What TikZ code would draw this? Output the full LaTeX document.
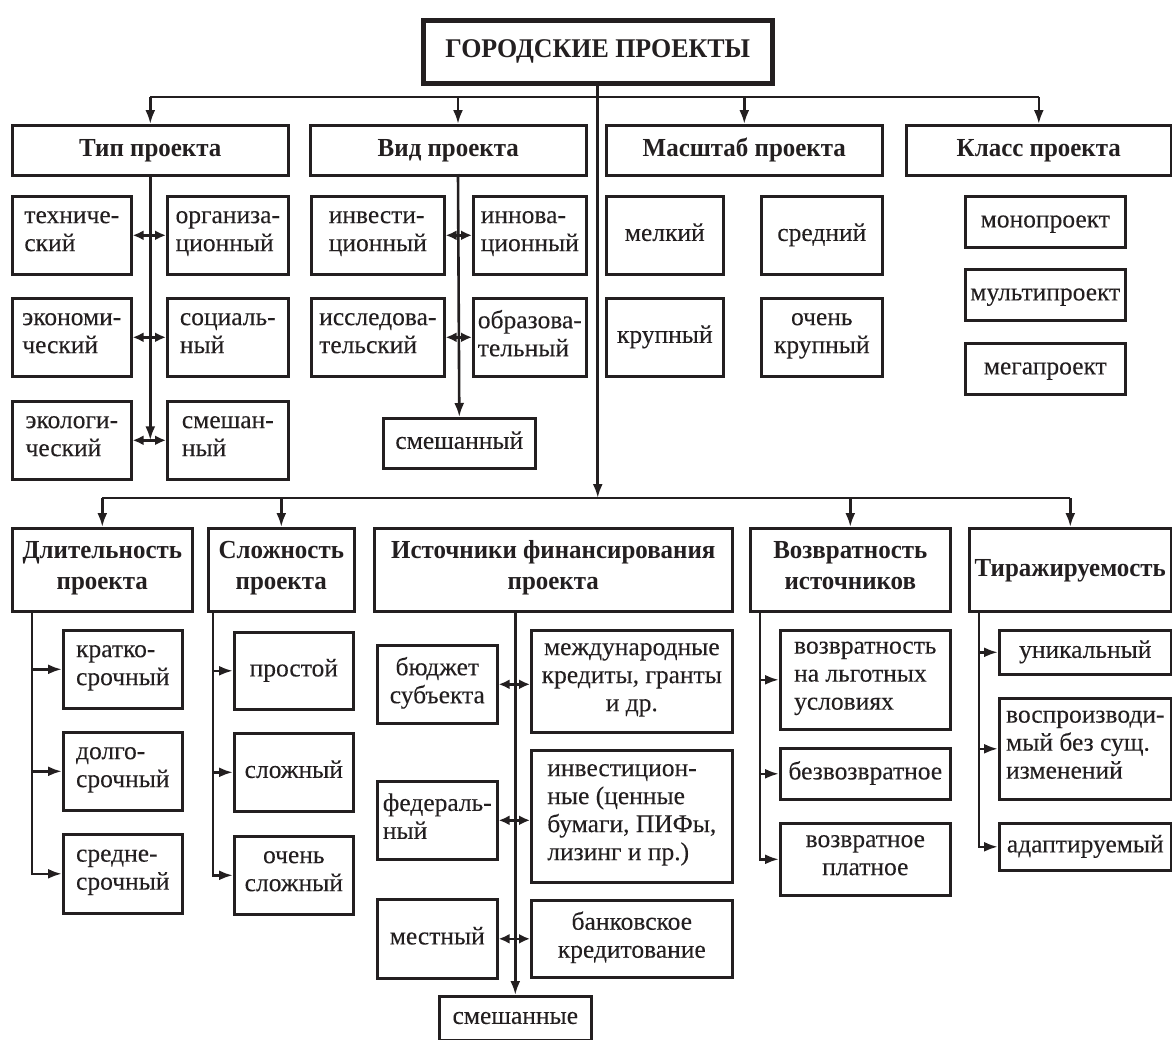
\documentclass[tikz,border=0pt]{standalone}
\usepackage{fontspec}
\setmainfont{Liberation Serif}
\newfontfamily\bodyfont[FakeBold=0.15]{Liberation Serif}
\newfontfamily\headfont[FakeStretch=0.96]{Liberation Serif}
\usetikzlibrary{arrows.meta}
\definecolor{ink}{RGB}{35,31,32}

\begin{document}
\begin{tikzpicture}[x=1pt,y=-1pt,
    box/.style={draw=ink, text=ink, line width=2.6pt, inner sep=1pt, align=left,
        anchor=north west, font={\fontsize{25.5}{28}\bodyfont},
        execute at begin node=\strut, execute at end node=\strut},
    cbox/.style={box, align=center},
    head/.style={box, align=center, font={\fontsize{26}{31}\headfont\bfseries}},
    lin/.style={draw=ink, line width=2.6pt},
    arr/.style={lin, arrows={-Latex[length=14pt,width=10pt]}},
    dbl/.style={lin, arrows={Latex[length=11pt,width=10pt]-Latex[length=11pt,width=10pt]}}]
    \useasboundingbox (0,0) rectangle (1172,1039);

    \node[head, line width=4.5pt, minimum width=349, minimum height=63,
        font={\fontsize{27}{31}\headfont\bfseries}] (title) at (421,18) {ГОРОДСКИЕ ПРОЕКТЫ};

    \node[head, minimum width=276, minimum height=50] (htype) at (11,124) {Тип проекта};
    \node[head, minimum width=276, minimum height=50] (hkind) at (309,124) {Вид проекта};
    \node[head, minimum width=276, minimum height=50] (hscale) at (605,124) {Масштаб проекта};
    \node[head, minimum width=265, minimum height=50] (hclass) at (905,124) {Класс проекта};

    \node[box, minimum width=119, minimum height=78] (tech) at (11,195) {техниче-\\ский};
    \node[box, minimum width=121, minimum height=78] (org) at (166,195) {организа-\\ционный};
    \node[box, minimum width=119, minimum height=78] (econ) at (11,297) {экономи-\\ческий};
    \node[box, minimum width=121, minimum height=78] (soc) at (166,297) {социаль-\\ный};
    \node[box, minimum width=119, minimum height=78] (ecol) at (11,400) {экологи-\\ческий};
    \node[box, minimum width=121, minimum height=78] (tmix) at (166,400) {смешан-\\ный};

    \node[box, minimum width=133, minimum height=78] (kinv) at (310,195) {инвести-\\ционный};
    \node[box, minimum width=113, minimum height=78] (kinn) at (472,195) {иннова-\\ционный};
    \node[box, minimum width=133, minimum height=78] (kres) at (310,297) {исследова-\\тельский};
    \node[box, minimum width=113, minimum height=78] (kedu) at (472,297) {образова-\\тельный};
    \node[box, minimum width=152, minimum height=50] (kmix) at (382,417) {смешанный};

    \node[box, minimum width=117, minimum height=78] (ssmall) at (605,195) {мелкий};
    \node[box, minimum width=121, minimum height=78] (smed) at (760,195) {средний};
    \node[box, minimum width=117, minimum height=78] (slarge) at (605,297) {крупный};
    \node[cbox, minimum width=121, minimum height=78] (svlarge) at (760,297) {очень\\крупный};

    \node[box, minimum width=160, minimum height=51] (cmono) at (964,195) {монопроект};
    \node[box, minimum width=160, minimum height=51] (cmulti) at (964,268) {мультипроект};
    \node[box, minimum width=160, minimum height=51] (cmega) at (964,342) {мегапроект};

    \node[head, minimum width=180, minimum height=83] (hdur) at (11,527) {Длительность\\проекта};
    \node[head, minimum width=146, minimum height=83] (hcomp) at (207,527) {Сложность\\проекта};
    \node[head, minimum width=358, minimum height=83] (hfin) at (373,527) {Источники финансирования\\проекта};
    \node[head, minimum width=200, minimum height=83] (hret) at (749,527) {Возвратность\\источников};
    \node[head, minimum width=202, minimum height=83] (hrep) at (968,527) {Тиражируемость};

    \node[box, minimum width=119, minimum height=78] (dshort) at (62,629) {кратко-\\срочный};
    \node[box, minimum width=119, minimum height=78] (dlong) at (62,731) {долго-\\срочный};
    \node[box, minimum width=119, minimum height=79] (dmid) at (62,833) {средне-\\срочный};

    \node[box, minimum width=119, minimum height=77] (csimple) at (233,631) {простой};
    \node[box, minimum width=119, minimum height=78] (ccomplex) at (233,732) {сложный};
    \node[cbox, minimum width=119, minimum height=78] (cvery) at (233,835) {очень\\сложный};

    \node[cbox, minimum width=120, minimum height=78] (fbud) at (376,644) {бюджет\\субъекта};
    \node[cbox, minimum width=201, minimum height=102] (fint) at (530,629) {международные\\кредиты, гранты\\и др.};
    \node[box, minimum width=120, minimum height=78] (ffed) at (376,780) {федераль-\\ный};
    \node[box, minimum width=201, minimum height=132] (finv) at (530,749) {инвестицион-\\ные (ценные\\бумаги, ПИФы,\\лизинг и пр.)};
    \node[box, minimum width=120, minimum height=79] (floc) at (376,898) {местный};
    \node[cbox, minimum width=201, minimum height=77] (fbank) at (530,899) {банковское\\кредитование};
    \node[box, minimum width=152, minimum height=44] (fmix) at (438,995) {смешанные};

    \node[box, minimum width=170, minimum height=99] (rpref) at (779,629) {возвратность\\на льготных\\условиях};
    \node[box, minimum width=170, minimum height=51] (rfree) at (779,747) {безвозвратное};
    \node[cbox, minimum width=170, minimum height=72] (rpaid) at (779,822) {возвратное\\платное};

    \node[box, minimum width=172, minimum height=44] (puniq) at (998,629) {уникальный};
    \node[box, minimum width=172, minimum height=101] (prepro) at (998,697) {воспроизводи-\\мый без сущ.\\изменений};
    \node[box, minimum width=172, minimum height=47] (padapt) at (998,822) {адаптируемый};

    \coordinate (bus1) at (0,97);
    \coordinate (bus2) at (0,498);
    \coordinate (ktrunk) at (458,174);
    \coordinate (dtrunk) at ([xshift=21pt]hdur.south west);
    \coordinate (ctrunk) at ([xshift=6pt]hcomp.south west);
    \coordinate (rtrunk) at ([xshift=11pt]hret.south west);
    \coordinate (ptrunk) at ([xshift=11pt]hrep.south west);

    \draw[lin] (htype.north |- bus1) -- (hclass.north |- bus1);
    \draw[arr] (htype.north |- bus1) -- (htype.north);
    \draw[arr] (ktrunk |- bus1) -- (ktrunk |- hkind.north);
    \draw[arr] (hscale.north |- bus1) -- (hscale.north);
    \draw[arr] (hclass.north |- bus1) -- (hclass.north);
    \draw[arr] (title.south) -- (title.south |- bus2);

    \draw[arr] (htype.south) -- (htype.south |- ecol.east);
    \draw[dbl] (tech.east) -- (org.west);
    \draw[dbl] (econ.east) -- (soc.west);
    \draw[dbl] (ecol.east) -- (tmix.west);

    \draw[arr] (ktrunk) -- (kmix.north);
    \draw[dbl] (kinv.east) -- (kinn.west);
    \draw[dbl] (kres.east) -- (kedu.west);

    \draw[lin] (hdur.north |- bus2) -- (hrep.north |- bus2);
    \draw[arr] (hdur.north |- bus2) -- (hdur.north);
    \draw[arr] (hcomp.north |- bus2) -- (hcomp.north);
    \draw[arr] (hret.north |- bus2) -- (hret.north);
    \draw[arr] (hrep.north |- bus2) -- (hrep.north);

    \draw[arr] (dtrunk) |- (dmid.west);
    \draw[arr] (dtrunk |- dshort.west) -- (dshort.west);
    \draw[arr] (dtrunk |- dlong.west) -- (dlong.west);

    \draw[arr] (ctrunk) |- (cvery.west);
    \draw[arr] (ctrunk |- csimple.west) -- (csimple.west);
    \draw[arr] (ctrunk |- ccomplex.west) -- (ccomplex.west);

    \draw[arr] (fmix.north |- hfin.south) -- (fmix.north);
    \draw[dbl] (fbud.east) -- (fbud.east -| fint.west);
    \draw[dbl] (ffed.east) -- (ffed.east -| finv.west);
    \draw[dbl] (floc.east) -- (floc.east -| fbank.west);

    \draw[arr] (rtrunk) |- (rpaid.west);
    \draw[arr] (rtrunk |- rpref.west) -- (rpref.west);
    \draw[arr] (rtrunk |- rfree.west) -- (rfree.west);

    \draw[arr] (ptrunk) |- (padapt.west);
    \draw[arr] (ptrunk |- puniq.west) -- (puniq.west);
    \draw[arr] (ptrunk |- prepro.west) -- (prepro.west);
\end{tikzpicture}
\end{document}
